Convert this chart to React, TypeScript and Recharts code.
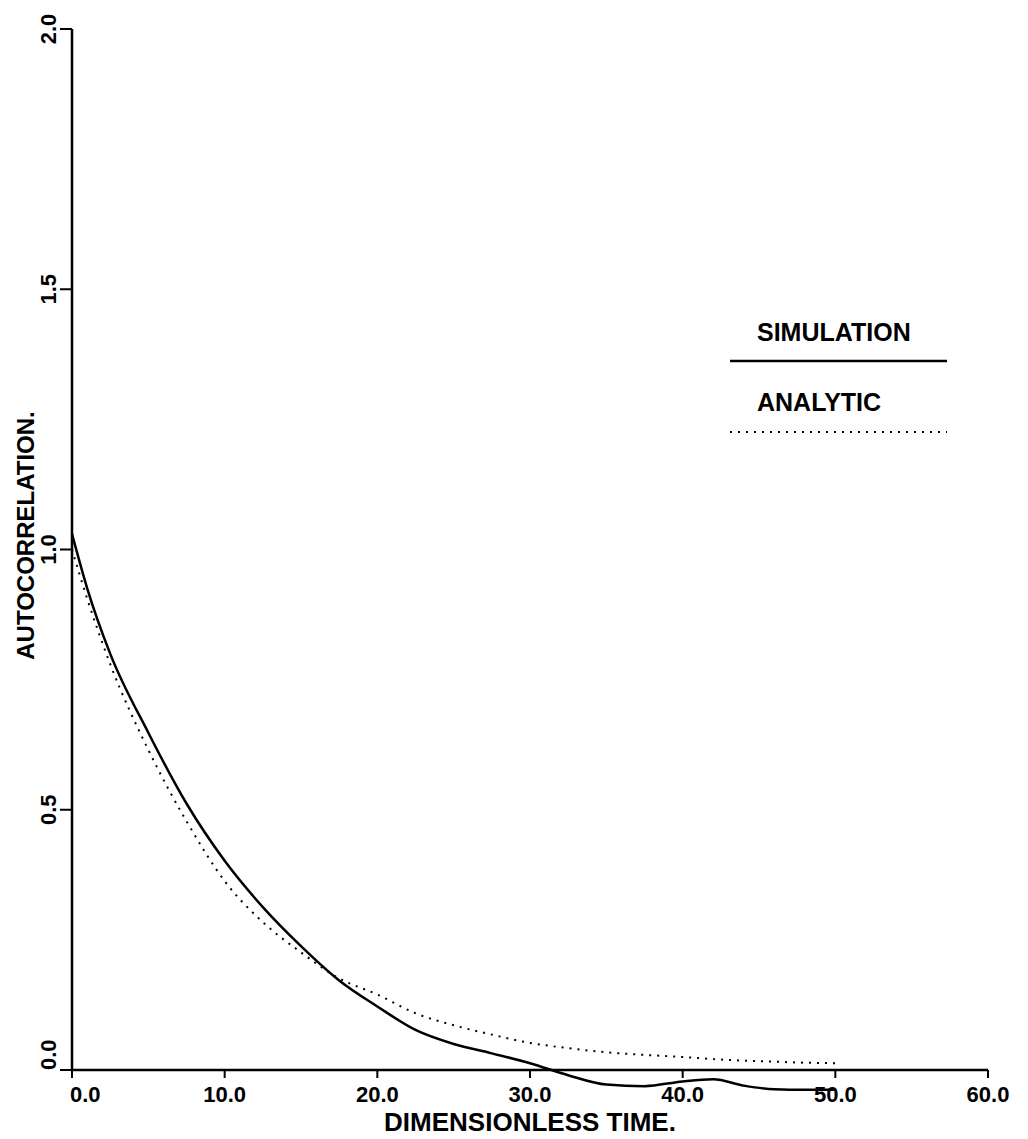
import { LineChart, Line, XAxis, YAxis, Legend } from "recharts";

// dimensionless time values shared by both curves
const times = [0, 1, 2.5, 5, 7.5, 10, 12.5, 15, 17.5, 20, 22.5, 25, 27.5, 30, 32.5, 35, 37.5, 40, 42, 44, 46, 48, 50];

const simulation = [1.03, 0.925, 0.8, 0.648, 0.512, 0.402, 0.313, 0.238, 0.172, 0.122, 0.077, 0.05, 0.032, 0.013, -0.01, -0.028, -0.031, -0.022, -0.018, -0.03, -0.037, -0.038, -0.038];

const analytic = [1.0, 0.905, 0.78, 0.615, 0.478, 0.363, 0.284, 0.226, 0.176, 0.145, 0.109, 0.086, 0.068, 0.052, 0.042, 0.034, 0.029, 0.025, 0.021, 0.018, 0.016, 0.014, 0.013];

const xTicks = [0, 10, 20, 30, 40, 50, 60];
const yTicks = [0, 0.5, 1.0, 1.5, 2.0];
const legendOrder = ["SIMULATION", "ANALYTIC"];

const data = times.map((t, i) => ({ t, simulation: simulation[i], analytic: analytic[i] }));

const FONT = "'Liberation Sans', Arial, Helvetica, sans-serif";

const XTick = ({ x, y, payload }: any) => (
  <text
    x={payload.value === 0 ? x - 2 : x}
    y={y}
    dy="0.71em"
    textAnchor={payload.value === 0 ? "start" : "middle"}
    fontFamily={FONT}
    fontWeight="bold"
    fontSize={22}
    fill="#000"
  >
    {payload.value.toFixed(1)}
  </text>
);

const YTick = ({ x, y, payload }: any) => (
  <text
    x={x}
    y={y}
    dy="0.36em"
    transform={`rotate(-90 ${x} ${y})`}
    textAnchor={payload.value === 0 ? "start" : "middle"}
    fontFamily={FONT}
    fontWeight="bold"
    fontSize={22}
    fill="#000"
  >
    {payload.value.toFixed(1)}
  </text>
);

const YTitle = (props: any) => {
  const vb = props.viewBox || { x: 0, y: 21, width: 64, height: 1041 };
  const cx = vb.x + 17;
  const cy = vb.y + vb.height / 2 - 14;
  return (
    <text
      x={cx}
      y={cy}
      dy="0.36em"
      transform={`rotate(-90 ${cx} ${cy})`}
      textAnchor="middle"
      fontFamily={FONT}
      fontWeight="bold"
      fontSize={24}
      fill="#000"
    >
      AUTOCORRELATION.
    </text>
  );
};

const LegendBox = ({ payload }: any) => {
  const items = [...(payload || [])].sort(
    (a: any, b: any) => legendOrder.indexOf(a.value) - legendOrder.indexOf(b.value)
  );
  return (
    <svg width={230} height={140}>
      {items.map((p: any, i: number) => (
        <g key={p.value}>
          <text x={35} y={33 + i * 70} fontFamily={FONT} fontWeight="bold" fontSize={25} fill="#000">
            {p.value}
          </text>
          <line
            x1={8}
            x2={225}
            y1={53 + i * 71}
            y2={53 + i * 71}
            stroke="#000"
            strokeWidth={i === 0 ? 2.5 : 2}
            strokeDasharray={i === 0 ? undefined : "2 6"}
          />
        </g>
      ))}
    </svg>
  );
};

export default function App() {
  return (
    <div style={{ background: "#fff" }}>
      <style>{`.recharts-wrapper svg *{clip-path:none !important;}`}</style>
      <LineChart width={1012} height={1131} data={data} margin={{ top: 21, right: 32, bottom: 0, left: 0 }}>
        <XAxis
          dataKey="t"
          type="number"
          domain={[0, 60]}
          ticks={xTicks}
          height={69}
          stroke="#000"
          axisLine={{ stroke: "#000", strokeWidth: 2.5 }}
          tickLine={{ stroke: "#000", strokeWidth: 2 }}
          tickSize={8}
          tickMargin={8}
          tick={<XTick />}
          label={{
            value: "DIMENSIONLESS TIME.",
            position: "insideBottom",
            offset: 8,
            style: { fontFamily: FONT, fontWeight: "bold", fontSize: 26, fill: "#000" },
          }}
        />
        <YAxis
          type="number"
          domain={[0, 2]}
          allowDataOverflow
          ticks={yTicks}
          width={64}
          stroke="#000"
          axisLine={{ stroke: "#000", strokeWidth: 2.5 }}
          tickLine={{ stroke: "#000", strokeWidth: 2 }}
          tickSize={12}
          tickMargin={12}
          tick={<YTick />}
          label={<YTitle />}
        />
        <Legend
          layout="horizontal"
          verticalAlign="middle"
          align="center"
          wrapperStyle={{ position: "absolute", top: 300, left: 714, width: 230 }}
          content={<LegendBox />}
        />
        <Line
          dataKey="simulation"
          name="SIMULATION"
          type="monotone"
          stroke="#000"
          strokeWidth={2.5}
          dot={false}
          isAnimationActive={false}
        />
        <Line
          dataKey="analytic"
          name="ANALYTIC"
          type="monotone"
          stroke="#000"
          strokeWidth={2}
          strokeDasharray="2 6"
          dot={false}
          isAnimationActive={false}
        />
      </LineChart>
    </div>
  );
}
